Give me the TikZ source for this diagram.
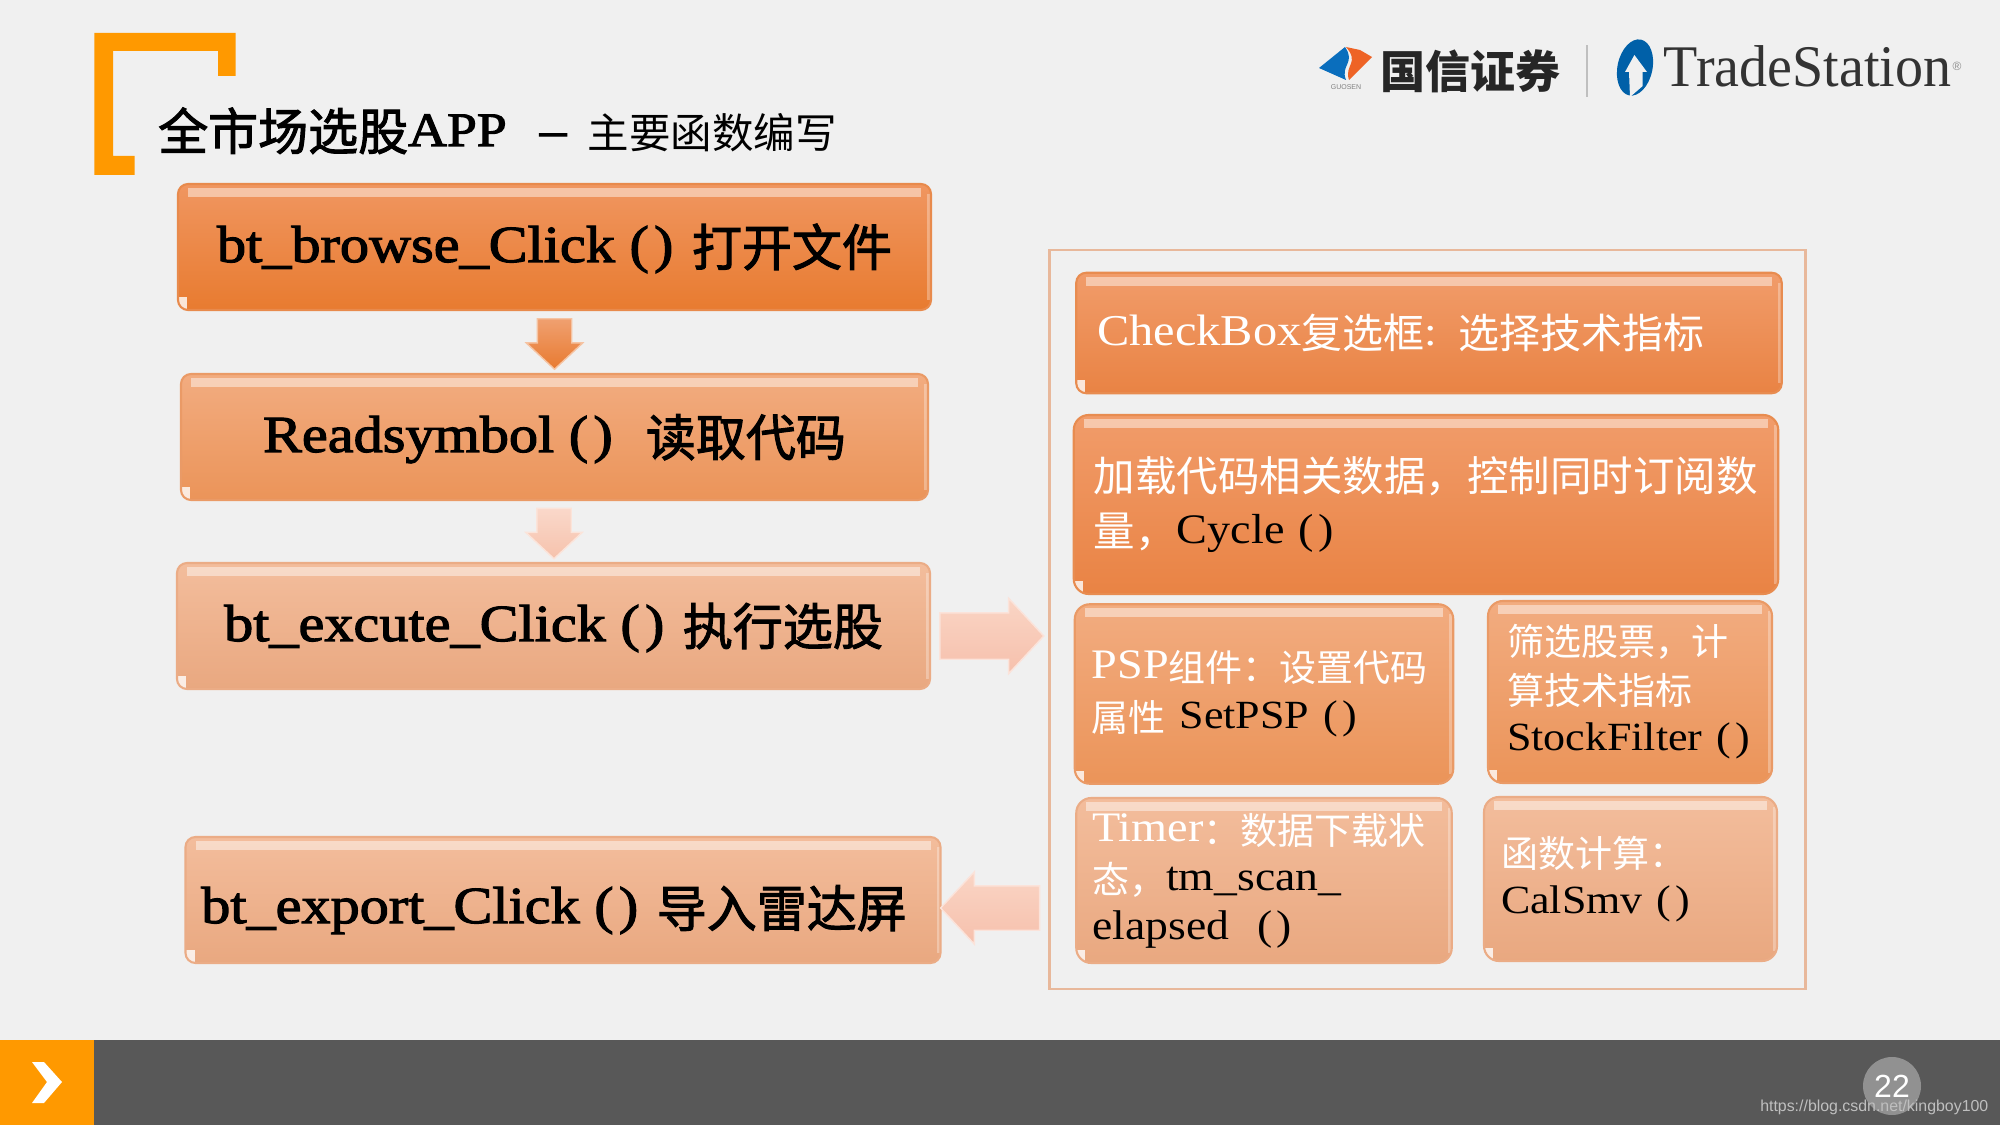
\documentclass[tikz,border=0pt]{standalone}
\usepackage{fontspec}
\usepackage{tikz}
\usetikzlibrary{calc}
\usetikzlibrary{shapes.arrows}
\setmainfont[FakeStretch=1.1]{Liberation Serif}
\newfontfamily\latbold[FakeStretch=1.12,FakeBold=2.2]{Liberation Serif}
\newfontfamily\cjkfont{Noto Sans CJK SC}
\newfontfamily\cjkbold[FakeBold=2]{Noto Sans CJK SC}
\newfontfamily\logofont[FakeStretch=.95]{Liberation Serif}
\newfontfamily\footfont{Liberation Sans}
\newcommand{\setpx}[2]{\fontsize{\the\dimexpr #1pt*2845/10000\relax}{\the\dimexpr #2pt*2845/10000\relax}\selectfont}
\newcommand{\cn}[1]{\raisebox{-.03cm}{\cjkfont #1}}
\newcommand{\cnb}[1]{\raisebox{-.04cm}{\cjkbold #1}}
\newcommand{\headcn}[1]{\hspace{.04cm}\raisebox{-.04cm}{\setpx{50}{60}\cjkbold #1}}
\newcommand{\pp}{{\spaceskip=.1em\relax( )}}
\definecolor{bggray}{HTML}{F0F0F0}
\definecolor{accent}{HTML}{FF9900}
\definecolor{footgray}{HTML}{585858}
\definecolor{guosenblue}{HTML}{0A6EBD}
\definecolor{guosenred}{HTML}{EE6325}
\definecolor{tsblue}{HTML}{0060A8}
\definecolor{grouprim}{HTML}{E8B89B}
\tikzset{
	fnbox/.style n args={4}{
		/utils/exec={\definecolor{boxtop}{HTML}{#1}\definecolor{boxmid}{HTML}{#2}\definecolor{boxbot}{HTML}{#3}\definecolor{boxrim}{HTML}{#4}},
		draw=boxrim, line width=0.6pt, rounded corners=0.1cm, inner sep=0pt,
		top color=boxtop, middle color=boxmid, bottom color=boxbot,
		path picture={
			\fill[sharp corners,white,opacity=.45] ($(path picture bounding box.north west)+(.1,-.04)$) rectangle ($(path picture bounding box.north east)+(-.1,-.13)$);
			\fill[sharp corners,white,opacity=.8] (path picture bounding box.south west) rectangle ++(.09,.13);
			\fill[sharp corners,white,opacity=.3] ($(path picture bounding box.north east)+(-.04,-.1)$) rectangle ($(path picture bounding box.south east)+(0,.1)$);
		}
	},
	darkbox/.style={fnbox={F09660}{EE8240}{E87B30}{E88A4C}},
	midbox/.style={fnbox={F19C6A}{EF8A4E}{E98344}{E88C50}},
	softbox/.style={fnbox={F2AC80}{F0A06C}{EB9459}{EA9A66}},
	palebox/.style={fnbox={F3BD9C}{F0B48F}{E9A880}{EBAC86}},
	headbox/.style={align=center, text=black, text height=.45cm, text depth=.15cm, font=\setpx{52}{60}\latbold},
	listbox/.style={align=left, text=white, font=\setpx{42}{#1}},
	blockarrow/.style 2 args={
		/utils/exec={\definecolor{arrowtop}{HTML}{#1}\definecolor{arrowbot}{HTML}{#2}},
		single arrow, single arrow tip angle=94, draw=white!55!arrowbot, line width=.4pt,
		top color=arrowtop, bottom color=arrowbot
	},
}
\begin{document}
\begin{tikzpicture}
	\useasboundingbox (0,0) rectangle (20,11.25);
	\fill[bggray] (0,0) rectangle (20,11.25);
	\fill[accent] (0.944,9.50) -- (0.944,10.92) -- (2.357,10.92) -- (2.357,10.49) -- (2.18,10.49) -- (2.18,10.74) -- (1.13,10.74) -- (1.13,9.69) -- (1.346,9.69) -- (1.346,9.50) -- cycle;
	\node[anchor=base west,inner sep=0pt,font=\setpx{48}{50}\latbold] (titlemain) at (1.575,9.79) {\setpx{50}{50}\cnb{全市场选股}\setpx{48}{50}APP\hspace{0.33cm}–};
	\node[anchor=base west,inner sep=0pt,font=\setpx{41.5}{50}] (titlesub) at (5.87,9.79) {\cn{主要函数编写}};

	\fill[guosenblue] (13.19,10.57) -- (13.45,10.78) .. controls (13.56,10.62) and (13.40,10.60) .. (13.46,10.45) -- cycle;
	\fill[guosenred] (13.46,10.78) -- (13.60,10.75) -- (13.72,10.68) -- (13.49,10.45) .. controls (13.44,10.60) and (13.60,10.62) .. (13.46,10.78) -- cycle;
	\node[inner sep=0pt,text=black!50,font=\setpx{7}{7}\footfont] (guosenlat) at (13.46,10.382) {GUOSEN};
	\node[anchor=west,inner sep=0pt,text=black!85,font=\setpx{45}{45}] (guosen) at (13.80,10.54) {\raisebox{-.04cm}{\cjkfont\bfseries 国信证券}};
	\node[inner sep=0pt,minimum width=.02cm,minimum height=.52cm,fill=black!25] (logosep) at (15.87,10.54) {};
	\fill[tsblue,rotate around={-12:(16.35,10.575)}] (16.35,10.575) ellipse (.175 and .285);
	\fill[bggray] (16.344,10.70) -- (16.47,10.53) -- (16.427,10.53) -- (16.427,10.39) -- (16.30,10.28) -- (16.29,10.53) -- (16.25,10.53) -- cycle;
	\node[anchor=base west,inner sep=0pt,text=black!80,font=\setpx{59}{59}\logofont] (tradestation) at (16.63,10.38) {TradeStation};
	\node[anchor=west,inner sep=0pt,text=black!45,font=\setpx{12}{12}\footfont] (regmark) at (tradestation.east) {®};

	\node[darkbox,headbox,minimum width=7.53cm,minimum height=1.26cm] (browse) at (5.545,8.78) {bt\_browse\_Click \pp{} \headcn{打开文件}};
	\node[softbox,headbox,minimum width=7.47cm,minimum height=1.26cm] (readsym) at (5.545,6.88) {Readsymbol \pp{} \ \headcn{读取代码}};
	\node[palebox,headbox,minimum width=7.53cm,minimum height=1.26cm] (excute) at (5.535,4.99) {bt\_excute\_Click \pp{} \headcn{执行选股}};
	\node[palebox,headbox,text height=.61cm,minimum width=7.55cm,minimum height=1.26cm] (export) at (5.63,2.25) {bt\_export\_Click \pp{} \headcn{导入雷达屏}\hspace{.18cm}};

	\node[draw=grouprim,line width=.8pt,minimum width=7.56cm,minimum height=7.39cm,inner sep=0pt] (funcgroup) at (14.275,5.055) {};

	\node[midbox,listbox=50,text width=6.635cm,inner xsep=.21cm,minimum height=1.205cm] (checkbox) at (14.29,7.92) {\setpx{44}{50}CheckBox\setpx{41}{50}\cn{复选框}: \cn{选择技术指标}};
	\node[midbox,listbox=55,rounded corners=.15cm,text width=6.645cm,inner xsep=.2cm,minimum height=1.79cm] (loaddata) at (14.26,6.205) {\setpx{41.5}{55}\cn{加载代码相关数据，控制同时订阅数}\\\cn{量，}\setpx{42}{55}\textcolor{black}{Cycle \pp}};
	\node[softbox,listbox=50,rounded corners=.15cm,text width=3.445cm,inner xsep=.17cm,minimum height=1.795cm] (setpsp) at (12.64,4.31) {PSP\setpx{37}{50}\cn{组件：设置代码}\\\cn{属性} \setpx{40}{50}\textcolor{black}{SetPSP \pp}};
	\node[softbox,listbox=49,rounded corners=.15cm,text width=2.46cm,inner xsep=.19cm,minimum height=1.82cm] (filter) at (16.30,4.33) {\setpx{37}{49}\cn{筛选股票，计}\\\cn{算技术指标}\\\setpx{40}{49}\textcolor{black}{StockFilter \pp}};
	\node[palebox,listbox=49,rounded corners=.15cm,text width=3.435cm,inner xsep=.16cm,minimum height=1.65cm] (timer) at (12.64,2.445) {Timer\setpx{37}{49}\cn{：数据下载状}\\\cn{态，}\setpx{41.5}{49}\textcolor{black}{tm\_scan\_}\\\textcolor{black}{elapsed \ \pp}};
	\node[palebox,listbox=49,rounded corners=.15cm,text width=2.59cm,inner xsep=.17cm,minimum height=1.64cm] (calsmv) at (16.305,2.46) {\setpx{37}{49}\cn{函数计算：}\\\setpx{40}{49}\textcolor{black}{CalSmv \pp}};

	\node[blockarrow={F0A070}{E87A30},shape border rotate=270,inner sep=.165cm,minimum height=.475cm,single arrow head extend=.11cm,yshift=.06cm] (arrowone) at ($(browse.south)!.5!(readsym.north)$) {};
	\node[blockarrow={FAD8CA}{F6C2AC},shape border rotate=270,inner sep=.165cm,minimum height=.475cm,single arrow head extend=.11cm,yshift=.06cm] (arrowtwo) at ($(readsym.south)!.5!(excute.north)$) {};
	\node[blockarrow={FAD5C5}{F6C0AC},inner sep=.225cm,minimum height=1.04cm,single arrow head extend=.145cm] (arrowright) at (9.81,4.89) {};
	\node[blockarrow={FAD5C5}{F6C0AC},shape border rotate=180,inner sep=.215cm,minimum height=.99cm,single arrow head extend=.14cm] (arrowleft) at (10.005,2.17) {};

	\fill[footgray] (0,0) rectangle (20,.855);
	\fill[accent] (0,0) rectangle (.94,.855);
	\fill[white] (.32,.63) -- (.44,.63) -- (.62,.43) -- (.44,.22) -- (.32,.22) -- (.47,.43) -- cycle;
	\node[circle,fill=black!43,minimum size=.58cm,inner sep=0pt,text=white,font=\setpx{32}{32}\footfont] (pagenum) at (18.92,.39) {22};
	\node[anchor=base east,inner sep=0pt,text=white!75!black,font=\setpx{15.9}{16}\footfont] (watermark) at (19.89,.14) {https://blog.csdn.net/kingboy100};
\end{tikzpicture}
\end{document}
